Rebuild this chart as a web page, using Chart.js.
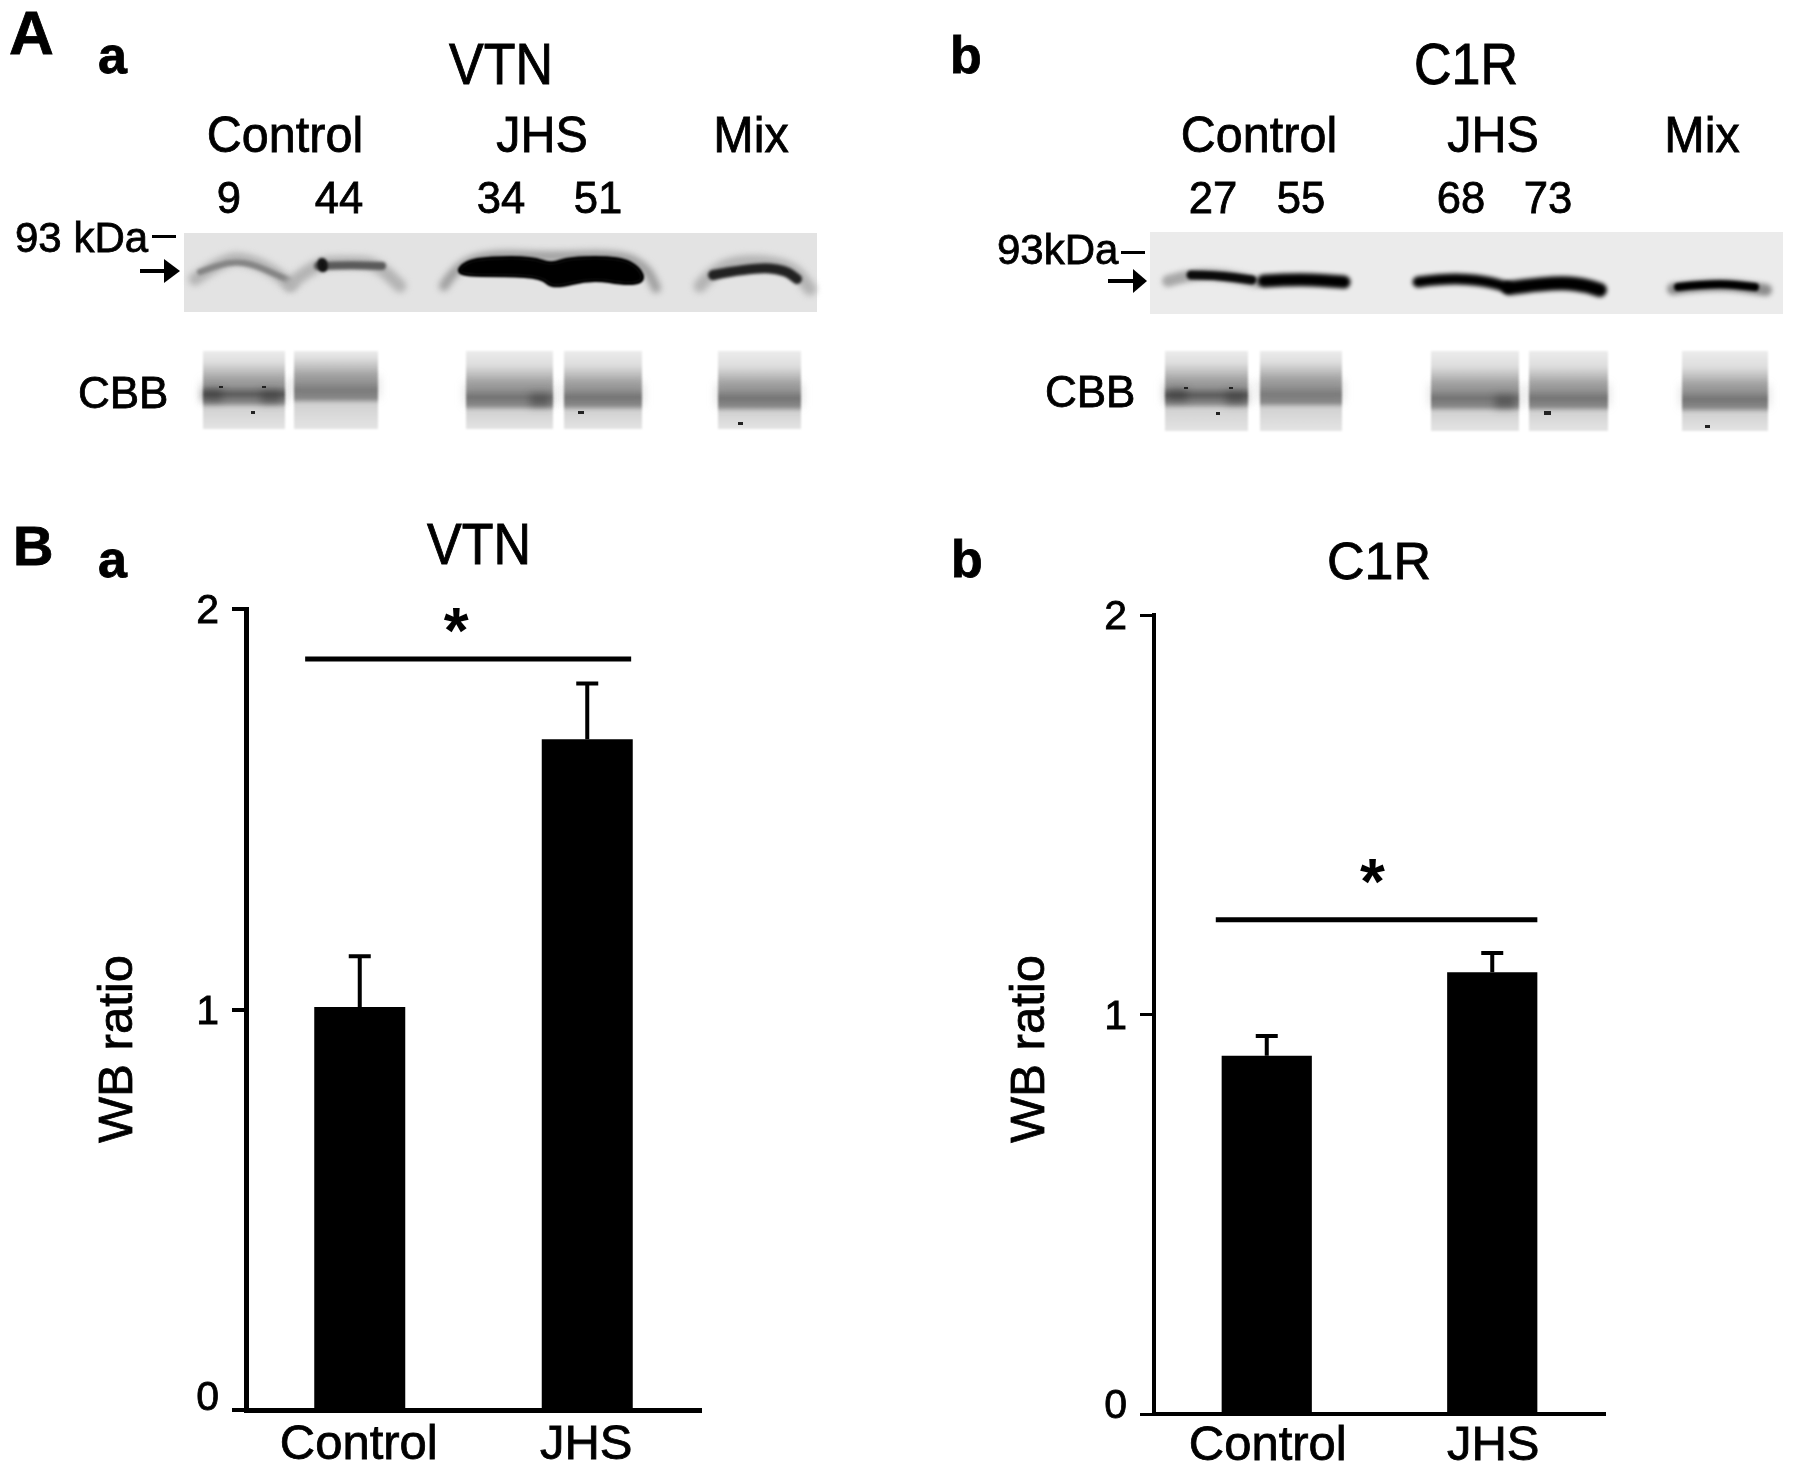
<!DOCTYPE html>
<html>
<head>
<meta charset="utf-8">
<title>VTN and C1R western blots</title>
<script src="https://cdn.jsdelivr.net/npm/chart.js@4"></script>
<style>
body { margin: 0; background: #fff; }
canvas { position: absolute; top: 0; }
</style>
</head>
<body>
<canvas id="panel-vtn" width="897" height="1472" style="left:0"></canvas>
<canvas id="panel-c1r" width="898" height="1472" style="left:897px"></canvas>
<script>
const categories = ["Control", "JHS"];
const yTicks = [0, 1, 2];
const vtnValues = [1.006, 1.675];
const vtnErrorTops = [1.133, 1.814];
const c1rValues = [0.897, 1.106];
const c1rErrorTops = [0.946, 1.154];
const vtnLanes = ["9", "44", "34", "51"];
const c1rLanes = ["27", "55", "68", "73"];
const groups = ["Control", "JHS", "Mix"];

const FONT = '"Liberation Sans", Arial, sans-serif';

function label(ctx, text, x, y, size, opts) {
    opts = opts || {};
    ctx.save();
    ctx.translate(x, y);
    if (opts.rotate) ctx.rotate(opts.rotate);
    ctx.scale(opts.sx || 1, opts.sy || 1);
    ctx.font = (opts.bold ? 'bold ' : '') + size + 'px ' + FONT;
    ctx.fillStyle = '#000';
    ctx.strokeStyle = '#000';
    ctx.lineWidth = opts.stroke === undefined ? 0.8 : opts.stroke;
    ctx.textAlign = opts.align || 'left';
    ctx.textBaseline = 'alphabetic';
    ctx.fillText(text, 0, 0);
    if (opts.stroke !== 0) ctx.strokeText(text, 0, 0);
    ctx.restore();
}

// smooth path through the midpoints of the given points
function smoothPath(ctx, pts, closed) {
    const mid = (a, b) => [(a[0] + b[0]) / 2, (a[1] + b[1]) / 2];
    ctx.beginPath();
    if (closed) {
        const start = mid(pts[pts.length - 1], pts[0]);
        ctx.moveTo(start[0], start[1]);
        pts.forEach((p, i) => {
            const m = mid(p, pts[(i + 1) % pts.length]);
            ctx.quadraticCurveTo(p[0], p[1], m[0], m[1]);
        });
        ctx.closePath();
    } else {
        ctx.moveTo(pts[0][0], pts[0][1]);
        for (let i = 1; i < pts.length - 1; i++) {
            const m = mid(pts[i], pts[i + 1]);
            ctx.quadraticCurveTo(pts[i][0], pts[i][1], m[0], m[1]);
        }
        ctx.lineTo(pts[pts.length - 1][0], pts[pts.length - 1][1]);
    }
}

function band(ctx, pts, width, color, blur) {
    ctx.save();
    ctx.filter = 'blur(' + blur + 'px)';
    ctx.strokeStyle = color;
    ctx.lineWidth = width;
    ctx.lineCap = 'round';
    ctx.lineJoin = 'round';
    smoothPath(ctx, pts, false);
    ctx.stroke();
    ctx.restore();
}

function blob(ctx, pts, color, blur) {
    ctx.save();
    ctx.filter = 'blur(' + blur + 'px)';
    ctx.fillStyle = color;
    ctx.strokeStyle = color;
    ctx.lineWidth = 4;
    ctx.lineJoin = 'round';
    smoothPath(ctx, pts, true);
    ctx.fill();
    ctx.stroke();
    ctx.restore();
}

function arrow(ctx, x0, x1, headX, y) {
    ctx.fillStyle = '#000';
    ctx.fillRect(x0, y - 2, headX - x0, 4);
    ctx.beginPath();
    ctx.moveTo(headX, y - 12);
    ctx.lineTo(x1, y);
    ctx.lineTo(headX, y + 12);
    ctx.closePath();
    ctx.fill();
}

// CBB loading control strips, one per lane
function cbbLane(ctx, x0, x1, top, bottom, bandY, dark) {
    const h = bottom - top;
    const g = ctx.createLinearGradient(0, top, 0, bottom);
    g.addColorStop(0, '#ececec');
    g.addColorStop((bandY - 32 - top) / h, '#dedede');
    g.addColorStop((bandY - 17 - top) / h, '#adadad');
    g.addColorStop((bandY - 8 - top) / h, '#9c9c9c');
    g.addColorStop((bandY - top) / h, dark);
    g.addColorStop((bandY + 8 - top) / h, '#8c8c8c');
    g.addColorStop((bandY + 14 - top) / h, '#d2d2d2');
    g.addColorStop(1, '#e4e4e4');
    ctx.save();
    ctx.filter = 'blur(1px)';
    ctx.fillStyle = g;
    ctx.fillRect(x0, top, x1 - x0, h);
    ctx.filter = 'blur(5px)';
    ctx.fillStyle = 'rgba(110,110,110,0.2)';
    ctx.fillRect(x0 - 2, bandY - 14, x1 - x0 + 4, 22);
    ctx.restore();
}

function patches(ctx, list) {
    list.forEach(p => {
        ctx.save();
        ctx.filter = 'blur(4px)';
        ctx.fillStyle = 'rgba(40,40,40,0.45)';
        ctx.fillRect(p[0] - 10, p[1] - 6, 20, 12);
        ctx.restore();
    });
}

function specks(ctx, list) {
    ctx.save();
    ctx.filter = 'blur(0.6px)';
    ctx.fillStyle = '#222';
    list.forEach(s => ctx.fillRect(s[0], s[1], s[2], s[3]));
    ctx.restore();
}

function drawBlotA(ctx) {
    label(ctx, 'A', 9, 54, 62, { bold: true });
    label(ctx, 'a', 98, 73, 52, { bold: true });
    label(ctx, 'VTN', 501, 84, 52, { align: 'center', sy: 1.12 });
    label(ctx, groups[0], 285, 152, 50, { align: 'center', sx: 0.97 });
    label(ctx, groups[1], 542, 152, 50, { align: 'center', sx: 0.97 });
    label(ctx, groups[2], 751, 152, 50, { align: 'center', sx: 0.97 });
    label(ctx, vtnLanes[0], 229, 213, 45, { align: 'center', sx: 0.97 });
    label(ctx, vtnLanes[1], 339, 213, 45, { align: 'center', sx: 0.97 });
    label(ctx, vtnLanes[2], 501, 213, 45, { align: 'center', sx: 0.97 });
    label(ctx, vtnLanes[3], 598, 213, 45, { align: 'center', sx: 0.97 });
    label(ctx, '93 kDa', 15, 252, 42);
    ctx.fillStyle = '#000';
    ctx.fillRect(152, 235, 24, 3);
    arrow(ctx, 140, 180, 164, 271);

    ctx.fillStyle = '#e3e3e3';
    ctx.fillRect(184, 233, 633, 79);
    band(ctx, [[195, 279], [225, 258], [250, 260], [275, 272], [290, 285]], 13, '#b4b4b4', 3);
    band(ctx, [[200, 272], [225, 262], [250, 263], [275, 274], [290, 281]], 6, '#858585', 1.5);
    band(ctx, [[291, 284], [315, 263], [347, 262], [376, 263], [400, 286]], 13, '#b4b4b4', 3);
    band(ctx, [[318, 266], [347, 265], [382, 266]], 8, '#5a5a5a', 1.5);
    blob(ctx, [[319, 260], [325, 260], [326, 270], [320, 270]], '#111', 1.5);
    band(ctx, [[444, 286], [456, 266], [490, 254], [551, 257], [620, 254], [647, 268], [656, 288]], 10, '#a0a0a0', 3);
    blob(ctx, [[456, 275], [465, 262], [490, 258], [532, 258], [551, 265], [570, 258], [620, 258], [639, 268], [644, 281], [627, 284], [591, 278], [553, 288], [542, 277], [507, 275]], '#000', 1.2);
    band(ctx, [[700, 286], [717, 266], [755, 260], [793, 267], [810, 289]], 13, '#b4b4b4', 3);
    band(ctx, [[713, 275], [755, 267], [785, 270], [797, 279]], 10, '#222', 1.8);

    label(ctx, 'CBB', 78, 408, 44);
    [[203, 285, 394, '#585858'], [294, 378, 390, '#808080'], [466, 553, 397, '#767676'], [564, 642, 397, '#787878'], [718, 801, 398, '#787878']]
        .forEach(l => cbbLane(ctx, l[0], l[1], 351, 429, l[2], l[3]));
    patches(ctx, [[212, 395], [271, 397], [540, 400]]);
    specks(ctx, [[219, 386, 4, 2], [262, 386, 4, 2], [251, 411, 4, 3], [578, 411, 6, 3], [738, 422, 5, 3]]);
}

function drawBlotB(ctx) {
    label(ctx, 'b', 950, 73, 52, { bold: true });
    label(ctx, 'C1R', 1466, 84, 52, { align: 'center', sy: 1.12 });
    label(ctx, groups[0], 1259, 152, 50, { align: 'center', sx: 0.97 });
    label(ctx, groups[1], 1493, 152, 50, { align: 'center', sx: 0.97 });
    label(ctx, groups[2], 1702, 152, 50, { align: 'center', sx: 0.97 });
    label(ctx, c1rLanes[0], 1213, 213, 45, { align: 'center', sx: 0.97 });
    label(ctx, c1rLanes[1], 1301, 213, 45, { align: 'center', sx: 0.97 });
    label(ctx, c1rLanes[2], 1461, 213, 45, { align: 'center', sx: 0.97 });
    label(ctx, c1rLanes[3], 1548, 213, 45, { align: 'center', sx: 0.97 });
    label(ctx, '93kDa', 997, 264, 42);
    ctx.fillStyle = '#000';
    ctx.fillRect(1121, 251, 24, 3);
    arrow(ctx, 1108, 1147, 1133, 281);

    ctx.fillStyle = '#ebebeb';
    ctx.fillRect(1150, 232, 633, 82);
    band(ctx, [[1168, 281], [1191, 274], [1225, 275], [1257, 282]], 12, '#a8a8a8', 2.5);
    band(ctx, [[1191, 275], [1215, 275], [1252, 280]], 9, '#0a0a0a', 1.8);
    band(ctx, [[1264, 281], [1300, 279], [1344, 282]], 13, '#000', 2);
    band(ctx, [[1418, 282], [1448, 278], [1486, 281], [1507, 287]], 11, '#000', 2);
    band(ctx, [[1509, 288], [1554, 282], [1584, 285], [1600, 290]], 14, '#000', 2);
    band(ctx, [[1673, 289], [1715, 283], [1766, 290]], 12, '#8c8c8c', 2.5);
    band(ctx, [[1678, 287], [1715, 283], [1755, 287]], 8, '#000', 1.8);

    label(ctx, 'CBB', 1045, 407, 44);
    [[1165, 1248, 395, '#585858'], [1260, 1342, 394, '#808080'], [1431, 1519, 398, '#767676'], [1529, 1608, 398, '#787878'], [1682, 1768, 399, '#787878']]
        .forEach(l => cbbLane(ctx, l[0], l[1], 351, 431, l[2], l[3]));
    patches(ctx, [[1177, 395], [1236, 398], [1505, 402]]);
    specks(ctx, [[1544, 411, 7, 4], [1705, 425, 5, 3], [1216, 412, 4, 3], [1184, 387, 4, 2], [1229, 387, 4, 2]]);
}

// error bars and the significance bar go through the chart's own scales
function annotations(o, values, errorTops) {
    return {
        id: 'annotations',
        beforeDraw(chart) {
            const ctx = chart.ctx;
            ctx.save();
            ctx.translate(-o.offsetX, 0);
            o.blot(ctx);
            ctx.restore();
        },
        afterDraw(chart) {
            const ctx = chart.ctx;
            const x = chart.scales.x, y = chart.scales.y;
            ctx.save();
            ctx.strokeStyle = '#000';
            ctx.lineWidth = 4;
            errorTops.forEach((top, i) => {
                const px = x.getPixelForValue(i);
                ctx.beginPath();
                ctx.moveTo(px, y.getPixelForValue(values[i]));
                ctx.lineTo(px, y.getPixelForValue(top));
                ctx.moveTo(px - 11, y.getPixelForValue(top));
                ctx.lineTo(px + 11, y.getPixelForValue(top));
                ctx.stroke();
            });
            const sy = y.getPixelForValue(o.sigY);
            ctx.lineWidth = 5;
            ctx.beginPath();
            ctx.moveTo(x.getPixelForValue(o.sigFrom), sy);
            ctx.lineTo(x.getPixelForValue(o.sigTo), sy);
            ctx.stroke();
            label(ctx, '*', (x.getPixelForValue(o.sigFrom) + x.getPixelForValue(o.sigTo)) / 2 + o.starDx, sy + o.starDy, 64, { align: 'center', bold: true, stroke: 0 });
            ctx.restore();

            ctx.save();
            ctx.translate(-o.offsetX, 0);
            label(ctx, o.panelLetter[0], o.panelLetter[1], 577, 52, { bold: true });
            if (o.bigLetter) label(ctx, o.bigLetter, 13, 565, 56, { bold: true });
            label(ctx, o.title, o.titleX, o.titleY, 52, { align: 'center', sy: o.titleSy });
            label(ctx, 'WB ratio', o.yTitleX, 1049, 49, { align: 'center', rotate: -Math.PI / 2 });
            ctx.restore();
        }
    };
}

function panel(id, values, errorTops, area, opt) {
    const canvas = document.getElementById(id);
    return new Chart(canvas, {
        type: 'bar',
        data: {
            labels: categories,
            datasets: [{
                label: opt.title,
                data: values,
                backgroundColor: '#000',
                barPercentage: 0.4,
                categoryPercentage: 1
            }]
        },
        options: {
            responsive: false,
            animation: false,
            layout: { padding: { left: 0, top: area.top, right: canvas.width - area.right, bottom: 0 } },
            plugins: {
                legend: { display: false },
                title: { display: false },
                tooltip: { enabled: false }
            },
            scales: {
                x: {
                    afterFit(s) { s.height = canvas.height - area.bottom; },
                    grid: { display: false },
                    border: { color: '#000', width: area.axis },
                    ticks: {
                        color: '#000',
                        padding: area.xPad,
                        labelOffset: area.xShift,
                        maxRotation: 0,
                        textStrokeColor: '#000',
                        textStrokeWidth: 0.8,
                        font: { family: FONT, size: 49 }
                    }
                },
                y: {
                    min: 0,
                    max: 2,
                    afterBuildTicks(s) { s.ticks = yTicks.map(v => ({ value: v })); },
                    afterFit(s) { s.width = area.left; },
                    grid: { drawOnChartArea: false, color: '#000', lineWidth: area.axis - 1, tickLength: 14 },
                    border: { color: '#000', width: area.axis },
                    ticks: {
                        color: '#000',
                        padding: 13,
                        labelOffset: 3,
                        textStrokeColor: '#000',
                        textStrokeWidth: 0.8,
                        // the zero label sits above the axis line in the reference
                        callback: v => v === 0 ? ['0', ''] : String(v),
                        font: c => ({ family: FONT, size: 41, lineHeight: c.tick && c.tick.value === 0 ? area.zeroLift : 1.2 })
                    }
                }
            }
        },
        plugins: [annotations(opt, values, errorTops)]
    });
}

panel('panel-vtn', vtnValues, vtnErrorTops, { left: 246, right: 701, top: 609, bottom: 1410, axis: 5, xPad: -2, xShift: -1, zeroLift: '28px' }, {
    offsetX: 0, blot: drawBlotA, sigFrom: -0.24, sigTo: 1.193, sigY: 1.875, starDx: -12, starDy: -6,
    title: 'VTN', titleX: 479, titleY: 564, titleSy: 1.1, yTitleX: 132, panelLetter: ['a', 98], bigLetter: 'B'
});
panel('panel-c1r', c1rValues, c1rErrorTops, { left: 257, right: 708, top: 615, bottom: 1414, axis: 4, xPad: -5, xShift: 1, zeroLift: '20px' }, {
    offsetX: 897, blot: drawBlotB, sigFrom: -0.226, sigTo: 1.2, sigY: 1.237, starDx: -4, starDy: -16,
    title: 'C1R', titleX: 1379, titleY: 579, titleSy: 1, yTitleX: 1044, panelLetter: ['b', 951]
});
</script>
</body>
</html>
